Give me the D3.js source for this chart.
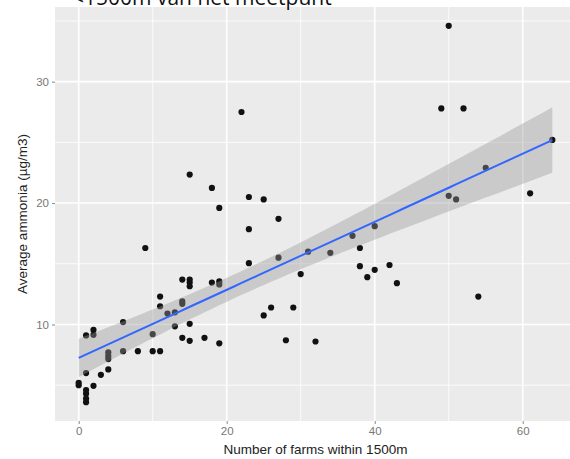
<!DOCTYPE html>
<html>
<head>
<meta charset="utf-8">
<script src="https://cdn.jsdelivr.net/npm/d3@7"></script>
<style>
  body { margin: 0; background: #fff; }
  text { font-family: "Liberation Sans", Arial, sans-serif; }
</style>
</head>
<body>
<script>
// Data: farms within 1500m vs average ammonia
const farms = [0, 0, 1, 1, 1, 1, 1, 1, 2, 2, 2, 3, 4, 4, 4, 4, 6, 6, 8, 9,
  10, 10, 11, 11, 11, 12, 13, 13, 14, 14, 14, 14, 15, 15, 15, 15, 15, 15, 17,
  18, 18, 19, 19, 19, 19, 22, 23, 23, 23, 25, 25, 26, 27, 27, 28, 29, 30, 31,
  32, 34, 37, 38, 38, 39, 40, 40, 42, 43, 49, 50, 50, 51, 52, 54, 55, 61, 64];
const ammonia = [5.2, 5.0, 3.6, 3.9, 4.3, 4.6, 6.0, 9.1, 4.95, 9.15, 9.55, 5.85,
  6.3, 7.15, 7.4, 7.7, 7.8, 10.2, 7.8, 16.3, 7.8, 9.2, 7.8, 11.5, 12.3, 10.9,
  11.0, 9.85, 13.7, 11.9, 11.7, 8.9, 13.7, 13.45, 13.15, 10.05, 8.65, 22.35,
  8.9, 13.45, 21.25, 13.55, 13.3, 8.45, 19.6, 27.5, 20.5, 17.85, 15.05, 10.75,
  20.3, 11.4, 15.5, 18.7, 8.7, 11.4, 14.15, 16.0, 8.6, 15.9, 17.3, 16.3, 14.8,
  13.9, 18.1, 14.5, 14.9, 13.4, 27.8, 34.6, 20.6, 20.3, 27.8, 12.3, 22.9, 20.8,
  25.2];

const xTicks = [0, 20, 40, 60];
const xMinor = [10, 30, 50];
const yTicks = [10, 20, 30];
const yMinor = [5, 15, 25, 35];

const titleText = "<1500m van het meetpunt";
const xLabel = "Number of farms within 1500m";
const yLabel = "Average ammonia (µg/m3)";

const W = 570, H = 459;
const panel = {left: 55, right: 576, top: 7, bottom: 421};

const svg = d3.select("body").append("svg")
  .attr("width", W)
  .attr("height", H);

// ggplot style 5% expansion of the data range
function expand(ext) {
  const pad = (ext[1] - ext[0]) * 0.05;
  return [ext[0] - pad, ext[1] + pad];
}

const x = d3.scaleLinear().domain(expand(d3.extent(farms))).range([panel.left, panel.right]);
const y = d3.scaleLinear().domain(expand(d3.extent(ammonia))).range([panel.bottom, panel.top]);

// Linear fit with 95% confidence band
const n = farms.length;
const mx = d3.mean(farms), my = d3.mean(ammonia);
let sxx = 0, sxy = 0;
farms.forEach((v, i) => { sxx += (v - mx) ** 2; sxy += (v - mx) * (ammonia[i] - my); });
const slope = sxy / sxx, icpt = my - slope * mx;
let sse = 0;
farms.forEach((v, i) => { sse += (ammonia[i] - (icpt + slope * v)) ** 2; });
const s = Math.sqrt(sse / (n - 2));
const tq = 1.992;
const xs = d3.range(80).map(i => d3.min(farms) + i * (d3.max(farms) - d3.min(farms)) / 79);
const fit = xs.map(v => {
  const f = icpt + slope * v;
  const se = s * Math.sqrt(1 / n + (v - mx) ** 2 / sxx);
  return {x: v, y: f, lo: f - tq * se, hi: f + tq * se};
});

// Panel background
svg.append("rect")
  .attr("x", panel.left).attr("y", panel.top)
  .attr("width", panel.right - panel.left)
  .attr("height", panel.bottom - panel.top)
  .attr("fill", "#ebebeb");

const grid = svg.append("g");
grid.selectAll(".xmin").data(xMinor).enter().append("line")
  .attr("x1", d => x(d)).attr("x2", d => x(d))
  .attr("y1", panel.top).attr("y2", panel.bottom)
  .attr("stroke", "#fff").attr("stroke-width", 0.8);
grid.selectAll(".ymin").data(yMinor).enter().append("line")
  .attr("y1", d => y(d)).attr("y2", d => y(d))
  .attr("x1", panel.left).attr("x2", panel.right)
  .attr("stroke", "#fff").attr("stroke-width", 0.8);
grid.selectAll(".xmaj").data(xTicks).enter().append("line")
  .attr("x1", d => x(d)).attr("x2", d => x(d))
  .attr("y1", panel.top).attr("y2", panel.bottom)
  .attr("stroke", "#fff").attr("stroke-width", 1.6);
grid.selectAll(".ymaj").data(yTicks).enter().append("line")
  .attr("y1", d => y(d)).attr("y2", d => y(d))
  .attr("x1", panel.left).attr("x2", panel.right)
  .attr("stroke", "#fff").attr("stroke-width", 1.6);

// Points
svg.append("g").selectAll("circle")
  .data(farms.map((v, i) => [v, ammonia[i]]))
  .enter().append("circle")
  .attr("cx", d => x(d[0]))
  .attr("cy", d => y(d[1]))
  .attr("r", 3.1)
  .attr("fill", "#111");

// Confidence band and fitted line
svg.append("path")
  .datum(fit)
  .attr("fill", "#999")
  .attr("fill-opacity", 0.4)
  .attr("d", d3.area().x(d => x(d.x)).y0(d => y(d.lo)).y1(d => y(d.hi)));

svg.append("path")
  .datum(fit)
  .attr("fill", "none")
  .attr("stroke", "#3366ff")
  .attr("stroke-width", 2)
  .attr("d", d3.line().x(d => x(d.x)).y(d => y(d.y)));

// Axes
const xAxis = svg.append("g")
  .attr("transform", "translate(0," + panel.bottom + ")")
  .call(d3.axisBottom(x).tickValues(xTicks).tickSize(3).tickPadding(3).tickFormat(d3.format("d")));
const yAxis = svg.append("g")
  .attr("transform", "translate(" + panel.left + ",0)")
  .call(d3.axisLeft(y).tickValues(yTicks).tickSize(3).tickPadding(3).tickFormat(d3.format("d")));
[xAxis, yAxis].forEach(a => {
  a.select(".domain").remove();
  a.selectAll(".tick line").attr("stroke", "#888");
  a.selectAll(".tick text").attr("fill", "#777").style("font-size", "11.5px");
});

// Axis titles
svg.append("text")
  .attr("x", (panel.left + panel.right) / 2)
  .attr("y", 454)
  .attr("text-anchor", "middle")
  .attr("fill", "#222")
  .style("font-size", "13.5px")
  .text(xLabel);

svg.append("text")
  .attr("transform", "translate(27," + (panel.top + panel.bottom) / 2 + ") rotate(-90)")
  .attr("text-anchor", "middle")
  .attr("fill", "#222")
  .style("font-size", "13.5px")
  .text(yLabel);

// Title, clipped at the top of the picture
svg.append("text")
  .attr("x", 72)
  .attr("y", 5)
  .attr("fill", "#111")
  .style("font-family", "'Open Sans', sans-serif")
  .style("font-size", "21px")
  .text(titleText);
</script>
</body>
</html>
